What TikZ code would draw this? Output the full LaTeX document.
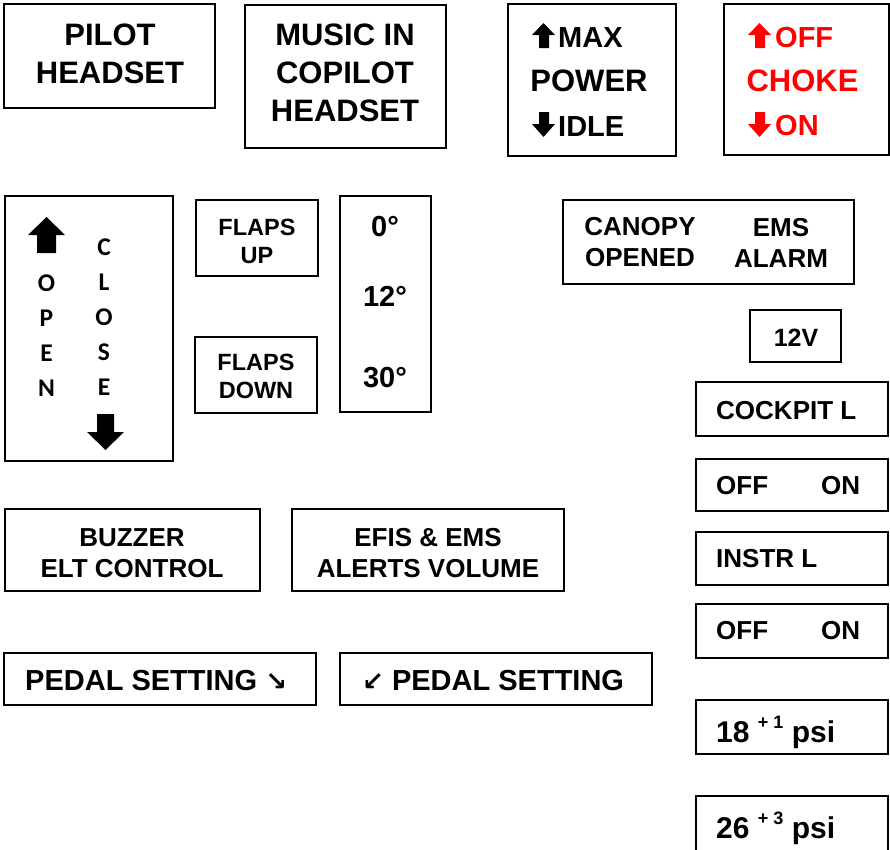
\documentclass[tikz,border=0pt]{standalone}
\usepackage{fontspec}
\setmainfont{Liberation Sans}
\newfontfamily\carlitofont{Carlito}
\newfontfamily\dejavufont{DejaVu Sans}
\newcommand\myfs[2]{\fontsize{#1}{#2}\selectfont}
\definecolor{chokered}{HTML}{FF0000}
\tikzset{
  box/.style={draw, line width=1.9pt, inner sep=0pt, rectangle},
  lbl/.style={inner sep=0pt, align=center},
  big/.style={lbl, font=\bfseries\myfs{31}{38}},
  mid/.style={lbl, font=\bfseries\myfs{29}{35}},
  std/.style={lbl, font=\bfseries\myfs{26}{31}},
  small/.style={lbl, font=\bfseries\myfs{23.5}{28}},
  letters/.style={lbl, font=\carlitofont\bfseries\myfs{25.5}{35}},
  arrowfill/.style={fill=black, draw=none},
}
\begin{document}
\begin{tikzpicture}[x=1pt,y=-1pt]
\useasboundingbox (0,0) rectangle (890,849);
% boxes
\node[box, minimum width=211, minimum height=104] (pilot) at (109.5,56) {};
\node[box, minimum width=201, minimum height=143] (music) at (345.5,76.5) {};
\node[box, minimum width=168, minimum height=152] (power) at (592,80) {};
\node[box, minimum width=165, minimum height=151] (choke) at (806.5,79.5) {};
\node[box, minimum width=168, minimum height=265] (canopen) at (89,328.5) {};
\node[box, minimum width=122, minimum height=76] (flapsup) at (257,238) {};
\node[box, minimum width=122, minimum height=76] (flapsdn) at (256,375) {};
\node[box, minimum width=91, minimum height=216] (deg) at (385.5,304) {};
\node[box, minimum width=291, minimum height=84] (canopy) at (708.5,242) {};
\node[box, minimum width=91, minimum height=52] (vtwelve) at (795.5,336) {};
\node[box, minimum width=192, minimum height=54] (cockpit) at (792,409) {};
\node[box, minimum width=192, minimum height=52] (offa) at (792,485) {};
\node[box, minimum width=192, minimum height=53] (instr) at (792,558.5) {};
\node[box, minimum width=192, minimum height=54] (offb) at (792,631) {};
\node[box, minimum width=192, minimum height=54] (peighteen) at (792,727) {};
\node[box, minimum width=192, minimum height=56] (ptwentysix) at (792,824) {};
\node[box, minimum width=255, minimum height=82] (buzzer) at (132.5,550) {};
\node[box, minimum width=272, minimum height=82] (efis) at (428,550) {};
\node[box, minimum width=312, minimum height=52] (pedala) at (160,679) {};
\node[box, minimum width=312, minimum height=52] (pedalb) at (496,679) {};
% texts
\node[big] (tpilot) at (110,54) {PILOT\\HEADSET};
\node[big] (tmusic) at (345,73) {MUSIC IN\\COPILOT\\HEADSET};
\node[mid, anchor=west] (tmax) at (558,38) {MAX};
\node[big] (tpower) at (589,81) {POWER};
\node[mid, anchor=west] (tidle) at (558,127) {IDLE};
\node[mid, anchor=west, text=chokered] (toff) at (775,38) {OFF};
\node[big, text=chokered] (tchoke) at (802.5,81) {CHOKE};
\node[mid, anchor=west, text=chokered] (ton) at (775,126) {ON};
\node[letters] (topen) at (46.5,336) {O\\P\\E\\N};
\node[letters] (tclose) at (104,317.5) {C\\L\\O\\S\\E};
\node[small] (tflapsup) at (257,241) {FLAPS\\UP};
\node[small] (tflapsdn) at (256,376.5) {FLAPS\\DOWN};
\node[mid] (tdzero) at (385,227) {0°};
\node[mid] (tdtwelve) at (385,296) {12°};
\node[mid] (tdthirty) at (385,378) {30°};
\node[std] (tcanopy) at (640,242.5) {CANOPY\\OPENED};
\node[std] (tems) at (781,242.5) {EMS\\ALARM};
\node[lbl, font=\bfseries\myfs{25}{30}] (tvtwelve) at (796,338) {12V};
\node[std, anchor=west] (tcockpit) at (716,410.5) {COCKPIT L};
\node[std, anchor=west] (toffa) at (716,486) {OFF};
\node[std, anchor=west] (tona) at (821,486) {ON};
\node[std, anchor=west] (tinstr) at (716,559) {INSTR L};
\node[std, anchor=west] (toffb) at (716,631) {OFF};
\node[std, anchor=west] (tonb) at (821,631) {ON};
\node[lbl, font=\bfseries\myfs{30}{36}, anchor=base west] (tpeighteen) at (716,742) {18 \raisebox{14pt}{\myfs{18}{20}+ 1} psi};
\node[lbl, font=\bfseries\myfs{30}{36}, anchor=base west] (tptwentysix) at (716,838) {26 \raisebox{14pt}{\myfs{18}{20}+ 3} psi};
\node[std] (tbuzzer) at (132,553) {BUZZER\\ELT CONTROL};
\node[std] (tefis) at (428,553) {EFIS \& EMS\\ALERTS VOLUME};
\node[mid, anchor=west] (tpedala) at (25,681) {PEDAL SETTING {\dejavufont\bfseries\myfs{26}{30}↘}};
\node[mid, anchor=west] (tpedalb) at (362,681) {{\dejavufont\bfseries\myfs{26}{30}↙} PEDAL SETTING};
% arrows (block glyphs)
\fill[arrowfill] (543.5,23) -- (555,35) -- (549,35) -- (549,48) -- (539,48) -- (539,35) -- (532,35) -- cycle;
\fill[arrowfill] (543.5,137) -- (555,124) -- (549,124) -- (549,112) -- (539,112) -- (539,124) -- (532,124) -- cycle;
\fill[chokered] (759.5,23) -- (771,35) -- (765,35) -- (765,48) -- (755,48) -- (755,35) -- (748,35) -- cycle;
\fill[chokered] (759.5,137) -- (771,124) -- (765,124) -- (765,112) -- (755,112) -- (755,124) -- (748,124) -- cycle;
\fill[arrowfill] (46.5,217) -- (65,235) -- (56,235) -- (56,253) -- (37,253) -- (37,235) -- (28,235) -- cycle;
\fill[arrowfill] (105.5,450) -- (124,432) -- (114,432) -- (114,414) -- (97,414) -- (97,432) -- (87,432) -- cycle;
\end{tikzpicture}
\end{document}
